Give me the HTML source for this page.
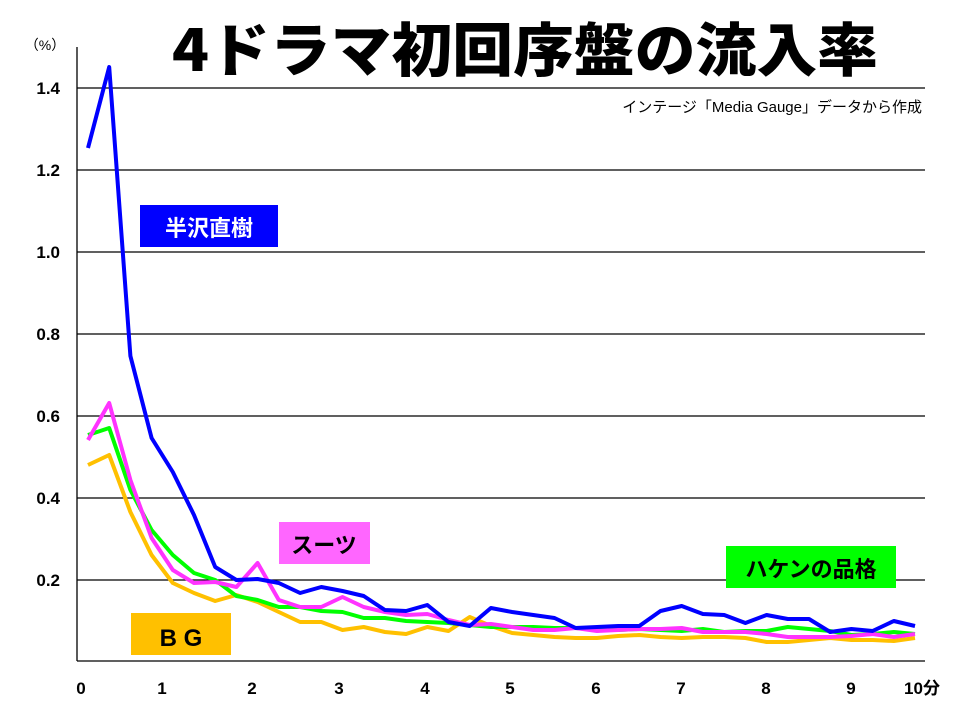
<!DOCTYPE html>
<html><head><meta charset="utf-8"><style>
body{margin:0;background:#fff}
svg{display:block;font-family:"Liberation Sans","Noto Sans CJK JP",sans-serif}
</style></head><body>
<svg width="960" height="720" viewBox="0 0 960 720" xmlns="http://www.w3.org/2000/svg">
<rect width="960" height="720" fill="#fff"/>
<text x="172" y="71" font-size="58" font-weight="900" textLength="706" lengthAdjust="spacingAndGlyphs" font-family="'Noto Sans CJK JP',sans-serif">4ドラマ初回序盤の流入率</text>
<text x="45" y="50" text-anchor="middle" font-size="14">（%）</text>
<g stroke="#000" stroke-width="1.3">
<line x1="77" y1="88" x2="925" y2="88"/>
<line x1="77" y1="170" x2="925" y2="170"/>
<line x1="77" y1="252" x2="925" y2="252"/>
<line x1="77" y1="334" x2="925" y2="334"/>
<line x1="77" y1="416" x2="925" y2="416"/>
<line x1="77" y1="498" x2="925" y2="498"/>
<line x1="77" y1="580" x2="925" y2="580"/>
<line x1="77" y1="661" x2="925" y2="661"/>
<line x1="77" y1="47" x2="77" y2="661"/>
</g>
<g font-size="17" font-weight="bold" text-anchor="end">
<text x="60" y="94">1.4</text><text x="60" y="176">1.2</text><text x="60" y="258">1.0</text>
<text x="60" y="340">0.8</text><text x="60" y="422">0.6</text><text x="60" y="504">0.4</text><text x="60" y="586">0.2</text>
</g>
<g font-size="17" font-weight="bold" text-anchor="middle">
<text x="81" y="694">0</text><text x="162" y="694">1</text><text x="252" y="694">2</text><text x="339" y="694">3</text>
<text x="425" y="694">4</text><text x="510" y="694">5</text><text x="596" y="694">6</text><text x="681" y="694">7</text>
<text x="766" y="694">8</text><text x="851" y="694">9</text><text x="922" y="694">10分</text>
</g>
<text x="922" y="112" text-anchor="end" font-size="15">インテージ「Media Gauge」データから作成</text>
<g fill="none" stroke-width="4" stroke-linejoin="round">
<polyline id="o" stroke="#ffc000" points=""/>
<polyline id="g" stroke="#00ff00" points=""/>
<polyline id="m" stroke="#ff33ff" points=""/>
<polyline id="b" stroke="#0000ff" points=""/>
</g>
<rect x="140" y="205" width="138" height="42" fill="#0000ff"/>
<text x="209" y="236" text-anchor="middle" font-size="22" font-weight="bold" fill="#fff" font-family="'Noto Sans CJK JP',sans-serif">半沢直樹</text>
<rect x="279" y="522" width="91" height="42" fill="#ff66ff"/>
<text x="324" y="553" text-anchor="middle" font-size="22" font-weight="bold" font-family="'Noto Sans CJK JP',sans-serif">スーツ</text>
<rect x="131" y="613" width="100" height="42" fill="#ffc000"/>
<text x="181" y="646" text-anchor="middle" font-size="24" font-weight="bold">B G</text>
<rect x="726" y="546" width="170" height="42" fill="#00ff00"/>
<text x="811" y="577" text-anchor="middle" font-size="22" font-weight="bold" font-family="'Noto Sans CJK JP',sans-serif">ハケンの品格</text>
</svg>
<script>
var d={
b:[148,67,356,438,472,515,567,580,579,583,593,587,591,596,610,611,605,622,626,608,612,615,618,628,627,626,626,611,606,614,615,623,615,619,619,632,629,631,621,626],
m:[440,403,480,538,570,583,582,587,563,600,607,607,597,607,612,615,614,620,625,624,627,630,630,628,631,630,629,629,628,632,632,632,634,637,637,637,636,634,637,634],
g:[435,428,490,530,555,573,580,596,600,607,607,611,612,618,618,621,622,623,625,627,627,627,628,628,630,630,629,630,631,629,632,631,631,627,629,631,635,634,632,634],
o:[465,455,512,555,583,593,601,595,602,612,622,622,630,627,632,634,627,631,617,626,633,635,637,638,638,636,635,637,638,637,637,638,642,642,640,638,640,640,641,638]};
for(var k in d){var p=d[k].map(function(y,i){return (88+i*827/39).toFixed(1)+","+y}).join(" ");document.getElementById(k).setAttribute("points",p);}
</script>
</body></html>
